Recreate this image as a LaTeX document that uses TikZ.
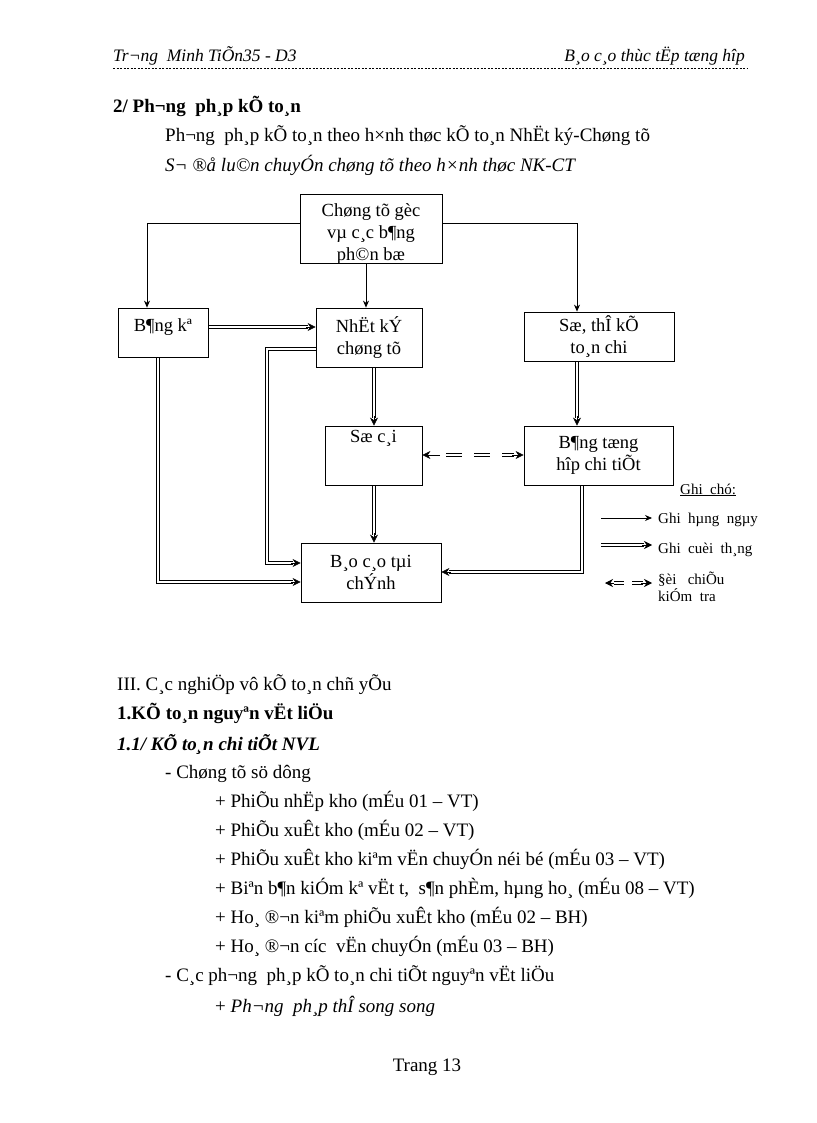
\documentclass[tikz,border=0pt]{standalone}
\usepackage{fontspec}
\setmainfont{Liberation Serif}
\usetikzlibrary{arrows.meta}
\begin{document}
\begin{tikzpicture}[x=1pt,y=-1pt,
  box/.style={draw,line width=0.8pt,inner sep=0pt,align=center,font=\fontsize{18.5}{22}\selectfont},
  lbl/.style={inner sep=0pt,align=center,font=\fontsize{18.5}{22}\selectfont},
  txt/.style={anchor=base west,inner sep=0pt,font=\fontsize{19}{22}\selectfont},
  thin/.style={line width=0.7pt,-{Stealth[length=7pt,width=6pt]}},
  ln/.style={line width=0.7pt,line join=miter},
  tip/.style={line width=0.6pt,-{Stealth[length=8pt,width=8pt]}},
  lg/.style={anchor=base west,inner sep=0pt,font=\fontsize{15}{17}\selectfont}]
\useasboundingbox (0,0) rectangle (816,1123);
% header
\node[txt,font=\fontsize{17.5}{20}\selectfont\itshape] (h1) at (113,62) {Tr¬ng\ \ Minh TiÕn35 - D3};
\node[txt,font=\fontsize{17.5}{20}\selectfont\itshape,anchor=base east] (h2) at (745,62) {B¸o c¸o thùc tËp tæng hîp};
\coordinate (l1) at (113,68); \coordinate (l2) at (748,68);
\draw[dash pattern=on 2pt off 1.5pt,line width=0.6pt] (l1) -- (l2);
\node[txt,font=\fontsize{19}{22}\selectfont\bfseries] (t1) at (113,113) {2/ Ph¬ng\ \ ph¸p kÕ to¸n};
\node[txt] (t2) at (165,142) {Ph¬ng\ \ ph¸p kÕ to¸n theo h×nh thøc kÕ to¸n NhËt ký-Chøng tõ};
\node[txt,font=\fontsize{19}{22}\selectfont\itshape] (t3) at (165,172) {S¬ ®å lu©n chuyÓn chøng tõ theo h×nh thøc NK-CT};
% boxes
\node[box,minimum width=142,minimum height=69] (cg) at (371,228.5) {};
\node[lbl] (cgt) at (371,234) {Chøng tõ gèc\\vµ c¸c b¶ng\\ph©n bæ};
\node[box,minimum width=90,minimum height=49] (bk) at (163,332.5) {};
\node[lbl] (bkt) at (163,327) {B¶ng kª};
\node[box,minimum width=106,minimum height=59] (nk) at (369,337.5) {NhËt kÝ\\chøng tõ};
\node[box,minimum width=150,minimum height=49] (st) at (599,336.5) {Sæ, thÎ kÕ\\to¸n chi};
\node[box,minimum width=97,minimum height=59] (sc) at (373.5,455.5) {};
\node[lbl] (sct) at (373.5,438) {Sæ c¸i};
\node[box,minimum width=149,minimum height=59] (th) at (598.5,455.5) {B¶ng tæng\\hîp chi tiÕt};
\node[box,minimum width=140,minimum height=59] (bc) at (371,572.5) {B¸o c¸o tµi\\chÝnh};
% thin
\draw[thin] (cg.west|-0,223) -| (bk.north-|147,0);
\draw[thin] (cg.south-|366,0) -- (nk.north-|366,0);
\draw[thin] (cg.east|-0,223) -| (st.north-|577,0);
% double connectors (two parallel lines + head)
% bk -> nk
\draw[ln] (208,325.7) -- (308,325.7); \draw[ln] (208,328.3) -- (308,328.3);
\draw[tip] (306,327) -- (nk.west|-0,327);
% nk -> bc (left loop)
\draw[ln] (316,347.7) -| (265.7,564.3) -- (293,564.3);
\draw[ln] (316,350.3) -| (268.3,561.7) -- (293,561.7);
\draw[tip] (291,563) -- (bc.west|-0,563);
% bk -> bc
\draw[ln] (156.7,357) |- (293,583.3);
\draw[ln] (159.3,357) |- (293,580.7);
\draw[tip] (291,582) -- (bc.west|-0,582);
% nk -> sc
\draw[ln] (372.7,367) -- (372.7,418); \draw[ln] (375.3,367) -- (375.3,418);
\draw[tip] (374,416) -- (sc.north-|374,0);
% st -> th
\draw[ln] (575.7,361) -- (575.7,418); \draw[ln] (578.3,361) -- (578.3,418);
\draw[tip] (577,416) -- (th.north-|577,0);
% sc -> bc
\draw[ln] (372.7,485) -- (372.7,535); \draw[ln] (375.3,485) -- (375.3,535);
\draw[tip] (374,533) -- (bc.north-|374,0);
% th -> bc
\draw[ln] (583.3,485) |- (449,573.3);
\draw[ln] (580.7,485) |- (449,570.7);
\draw[tip] (451,572) -- (bc.east|-0,572);
% dashed double sc <-> th
\draw[tip] (440,455) -- (sc.east|-0,455);
\foreach \a/\b in {446/462,474/490,502/514} {
  \draw[ln] (\a,453.7) -- (\b,453.7); \draw[ln] (\a,456.3) -- (\b,456.3);}
\draw[tip] (512,455) -- (th.west|-0,455);
% legend
\node[lg] (g0) at (680,494) {\underline{Ghi\ \ chó:}};
\coordinate (a1) at (601,518); \coordinate (a2) at (652,518);
\draw[thin] (a1) -- (a2);
\node[lg] (g1) at (658,523) {Ghi\ \ hµng\ \ ngµy};
\draw[ln] (601,543.7) -- (644,543.7); \draw[ln] (601,546.3) -- (644,546.3);
\coordinate (b1) at (642,545); \coordinate (b2) at (652,545);
\draw[tip] (b1) -- (b2);
\node[lg] (g2) at (658,553) {Ghi\ \ cuèi\ \ th¸ng};
\coordinate (c0) at (605,583); \coordinate (c1) at (614,583);
\draw[tip] (c1) -- (c0);
\foreach \a/\b in {614/624,632/643} {
  \draw[ln] (\a,581.7) -- (\b,581.7); \draw[ln] (\a,584.3) -- (\b,584.3);}
\coordinate (c5) at (641,583); \coordinate (c6) at (652,583);
\draw[tip] (c5) -- (c6);
\node[lg] (g3) at (658,584) {§èi\ \ \ chiÕu};
\node[lg] (g4) at (658,601) {kiÓm\ \ tra};
% lower text
\node[txt] (u1) at (117,690) {III. C¸c nghiÖp vô kÕ to¸n chñ yÕu};
\node[txt,font=\fontsize{19}{22}\selectfont\bfseries] (u2) at (117,719) {1.KÕ to¸n nguyªn vËt liÖu};
\node[txt,font=\fontsize{19}{22}\selectfont\bfseries\itshape] (u3) at (117,750) {1.1/ KÕ to¸n chi tiÕt NVL};
\node[txt] (u4) at (165,778) {- Chøng tõ sö dông};
\node[txt] (u5) at (215,807) {+ PhiÕu nhËp kho (mÉu 01 – VT)};
\node[txt] (u6) at (215,836) {+ PhiÕu xuÊt kho (mÉu 02 – VT)};
\node[txt] (u7) at (215,865) {+ PhiÕu xuÊt kho kiªm vËn chuyÓn néi bé (mÉu 03 – VT)};
\node[txt] (u8) at (215,894) {+ Biªn b¶n kiÓm kª vËt t,\ \ s¶n phÈm, hµng ho¸ (mÉu 08 – VT)};
\node[txt] (u9) at (215,923) {+ Ho¸ ®¬n kiªm phiÕu xuÊt kho (mÉu 02 – BH)};
\node[txt] (u10) at (215,952) {+ Ho¸ ®¬n cíc\ \ vËn chuyÓn (mÉu 03 – BH)};
\node[txt] (u11) at (165,981) {- C¸c ph¬ng\ \ ph¸p kÕ to¸n chi tiÕt nguyªn vËt liÖu};
\node[txt] (u12) at (215,1012) {+ \textit{Ph¬ng\ \ ph¸p thÎ song song}};
\node[txt,anchor=base] (pg) at (427,1071) {Trang 13};
\end{tikzpicture}
\end{document}
